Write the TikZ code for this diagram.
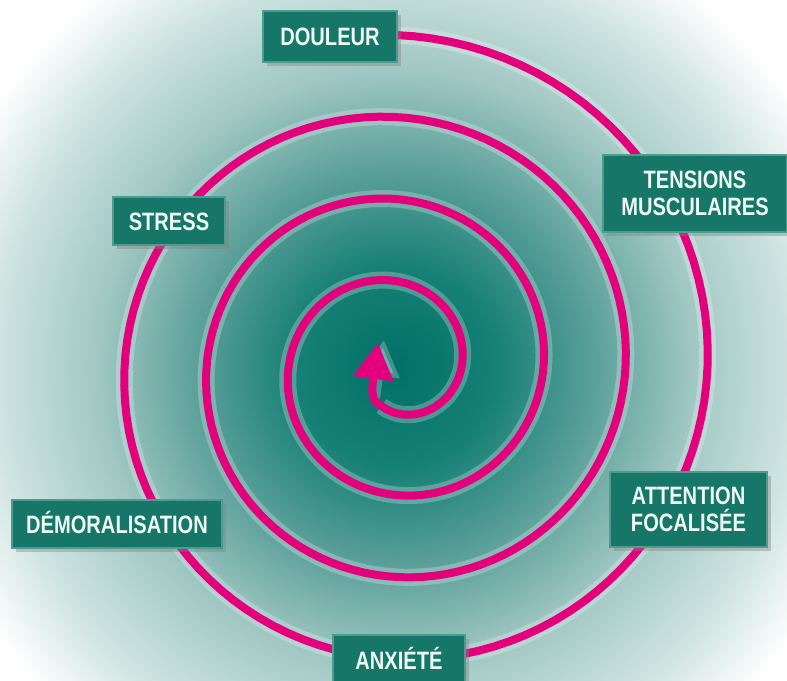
\documentclass[tikz,border=0pt]{standalone}
\usepackage{fontspec}
\newfontfamily\etiqfont{Liberation Sans}[FakeStretch=0.8]
\usetikzlibrary{arrows.meta,shadows,calc}
\definecolor{rose}{RGB}{228,0,124}
\definecolor{vertboite}{RGB}{22,118,104}
\definecolor{bordboite}{RGB}{78,156,142}
\definecolor{texteboite}{RGB}{238,249,243}
\definecolor{fondA}{RGB}{0,112,102}
\definecolor{fondB}{RGB}{22,128,118}
\definecolor{fondC}{RGB}{92,160,154}
\definecolor{fondD}{RGB}{162,200,196}
\definecolor{fondE}{RGB}{206,228,225}
\pgfdeclareradialshading{fondspirale}{\pgfpoint{0bp}{0bp}}{color(0bp)=(fondA); color(4.8bp)=(fondB); color(9.6bp)=(fondC); color(14.4bp)=(fondD); color(19.2bp)=(fondE); color(23bp)=(white); color(50bp)=(white)}
\tikzset{
  etape/.style={rectangle, fill=vertboite, draw=bordboite, line width=0.6pt, text=texteboite,
    font=\etiqfont\bfseries\fontsize{14.3}{15.4}\selectfont, align=center, inner sep=0pt,
    drop shadow={opacity=0.4, shadow xshift=0.8mm, shadow yshift=-0.8mm}},
  uneligne/.style={text height=10.3pt, text depth=0pt},
  spirale/.style={draw=rose, line width=1.6mm, -{Triangle[width=7.8mm, length=7.2mm]}},
  halo/.style={draw=white, opacity=0.25, line width=3.4mm}
}

\begin{document}
\begin{tikzpicture}[x=0.2mm, y=-0.2mm]
        \useasboundingbox (0,0) rectangle (787,681);
        %fond
        \fill[white] (0,0) rectangle (787,681);
        \shade[shading=fondspirale] (395.5,367.5) circle (520);
        %spirale
        \coordinate (centre) at (395.5,367.5);
        \coordinate (pointe) at (378,343);
        \draw[halo] plot[domain=0:1280, samples=400, variable=\t] ({395.5+(332.5-0.2278*\t)*sin(\t)}, {367.5-(332.5-0.2278*\t)*cos(\t)});
        \draw[halo, line width=1.6mm, -{Triangle[width=7.8mm, length=7.2mm]}] (376,398) .. controls (378,386) .. (384,340);
        \draw[spirale] plot[domain=0:1280, samples=400, variable=\t] ({395.5+(332.5-0.2278*\t)*sin(\t)}, {367.5-(332.5-0.2278*\t)*cos(\t)})
              .. controls (370.2,401.8) and (372,388) .. (pointe);
        %nodes
        \node[etape, uneligne, minimum width=26.8mm, minimum height=10.2mm] (douleur) at (330,36.5) {DOULEUR};
        \node[etape, minimum width=36.8mm, minimum height=15.4mm] (tensions) at (695,193.5) {TENSIONS\\MUSCULAIRES};
        \node[etape, uneligne, minimum width=22.4mm, minimum height=9.6mm] (stress) at (169,221) {STRESS};
        \node[etape, minimum width=31.4mm, minimum height=15mm] (attention) at (688.5,509.5) {ATTENTION\\FOCALISÉE};
        \node[etape, uneligne, minimum width=42mm, minimum height=9.6mm] (demoral) at (117,524) {DÉMORALISATION};
        \node[etape, uneligne, minimum width=26.4mm, minimum height=10mm] (anxiete) at (399,660) {ANXIÉTÉ};
\end{tikzpicture}
\end{document}
